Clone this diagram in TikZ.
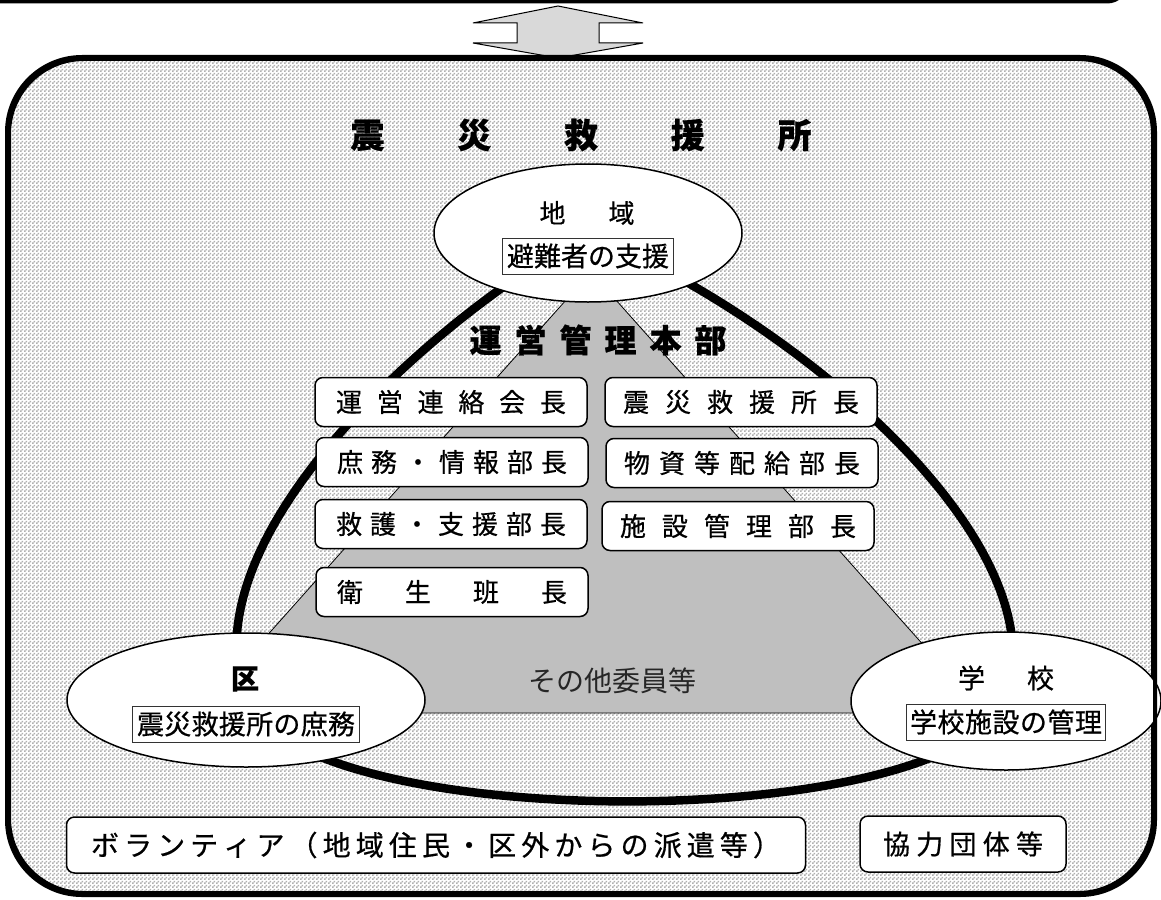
\documentclass[tikz,border=0pt]{standalone}
\usepackage{fontspec}
\setmainfont{Noto Sans CJK JP}[FakeBold=0.6]
\newfontfamily\thinfont{Noto Sans CJK JP}
\usetikzlibrary{shapes.geometric,patterns,backgrounds}

\pgfdeclarepatternformonly{checker}{\pgfqpoint{0pt}{0pt}}{\pgfqpoint{4pt}{4pt}}{\pgfqpoint{4pt}{4pt}}{%
  \pgfpathrectangle{\pgfqpoint{0pt}{0pt}}{\pgfqpoint{2pt}{2pt}}%
  \pgfpathrectangle{\pgfqpoint{2pt}{2pt}}{\pgfqpoint{2pt}{2pt}}%
  \pgfusepath{fill}}

\newcommand\fsz[1]{\fontsize{#1pt}{#1pt}\selectfont}
% letter-spaced text of a given width
\newcommand\spaced[2]{\makebox[#1][s]{\spacedA#2\relax}}
\def\spacedA#1{#1\spacedB}
\def\spacedB#1{\ifx#1\relax\else\hfill#1\expandafter\spacedB\fi}

\begin{document}
\begin{tikzpicture}[x=1pt, y=-1pt]

      \tikzstyle{oval} = [ellipse, draw, fill=white, line width=1.5pt, inner sep=0pt]
      \tikzstyle{inbox} = [rectangle, draw=black!80, fill=white, line width=1pt, minimum height=36pt, inner sep=0pt, font=\fsz{27}]
      \tikzstyle{post} = [rectangle, rounded corners=8pt, draw, fill=white, line width=1.5pt, minimum width=272pt, minimum height=49pt, inner sep=0pt, font=\fsz{26}]
      \tikzstyle{outer} = [rectangle, rounded corners=8pt, draw, fill=white, line width=1.5pt, minimum height=56pt, inner sep=0pt, font=\fsz{28}]
      \tikzstyle{station_style} = [rectangle, rounded corners=75pt, draw, line width=4pt, preaction={fill=white}, pattern=checker, pattern color=gray!62]
      \tikzstyle{txt} = [inner sep=0pt]

      \useasboundingbox (0,0) rectangle (1161,899);

      % upper frame and exchange arrow
      \draw[line width=4pt, rounded corners=20pt] (-40,-80) rectangle (1127,1.5);
      \draw[fill=gray!30, line width=1pt, line join=miter]
        (558,6) -- (643,23) -- (599,23) -- (599,43) -- (643,43) -- (558,58)
        -- (473,43) -- (517,43) -- (517,23) -- (473,23) -- cycle;

      \draw
        (588,233) node[oval, minimum width=308pt, minimum height=138pt] (chiiki){}
        (246,700) node[oval, minimum width=358pt, minimum height=134pt] (ku){}
        (1006,701) node[oval, minimum width=310pt, minimum height=138pt] (gakko){};

      \begin{pgfonlayer}{background}
        \draw (581,476) node[station_style, minimum width=1144pt, minimum height=834pt] (station){};
        \draw[fill=gray!50, line width=0.8pt] (591,272) -- (198,713) -- (984,713) -- cycle;
        \draw[line width=8.5pt]
          (chiiki.center) .. controls (430,320) and (185,540) .. (ku.center)
          .. controls (306,835) and (946,835) .. (gakko.center)
          .. controls (1060,540) and (795,320) .. (chiiki.center);
      \end{pgfonlayer}

      \draw
        (581,135) node[txt, font=\fsz{34}\bfseries] (title){\spaced{461pt}{震災救援所}}
        (587,213) node[txt, font=\fsz{26}] (chiiki_t){地\hspace{43pt}域}
        (588,256) node[inbox, minimum width=171pt] (chiiki_b){避難者の支援}
        (245,679) node[txt, font=\fsz{28}\bfseries] (ku_t){区}
        (246,724) node[inbox, minimum width=227pt] (ku_b){\spaced{218pt}{震災救援所の庶務}}
        (1006,678) node[txt, font=\fsz{27}] (gakko_t){学\hspace{42pt}校}
        (1006,722) node[inbox, minimum width=199pt] (gakko_b){\spaced{192pt}{学校施設の管理}}
        (598,340) node[txt, font=\fsz{32}\bfseries] (honbu){\spaced{257pt}{運営管理本部}}
        (451,402) node[post] (p1){\spaced{230pt}{運営連絡会長}}
        (452,462) node[post] (p2){\spaced{230pt}{庶務・情報部長}}
        (451,524) node[post] (p3){\spaced{230pt}{救護・支援部長}}
        (452,592) node[post] (p4){\spaced{230pt}{衛生班長}}
        (741,402) node[post] (p5){\spaced{236pt}{震災救援所長}}
        (742,463) node[post] (p6){\spaced{236pt}{物資等配給部長}}
        (738,526) node[post] (p7){\spaced{236pt}{施設管理部長}}
        (612,681) node[txt, font=\fsz{28}\thinfont, text=black!85] (others){その他委員等}
        (436,845) node[outer, minimum width=739pt] (volunteer){\spaced{690pt}{ボランティア（地域住民・区外からの派遣等）}}
        (963,844) node[outer, minimum width=206pt, font=\fsz{27}] (kyoryoku){\spaced{160pt}{協力団体等}};

      \draw[line width=4pt, rounded corners=75pt] (station.north west) rectangle (station.south east);
    \end{tikzpicture}
\end{document}
